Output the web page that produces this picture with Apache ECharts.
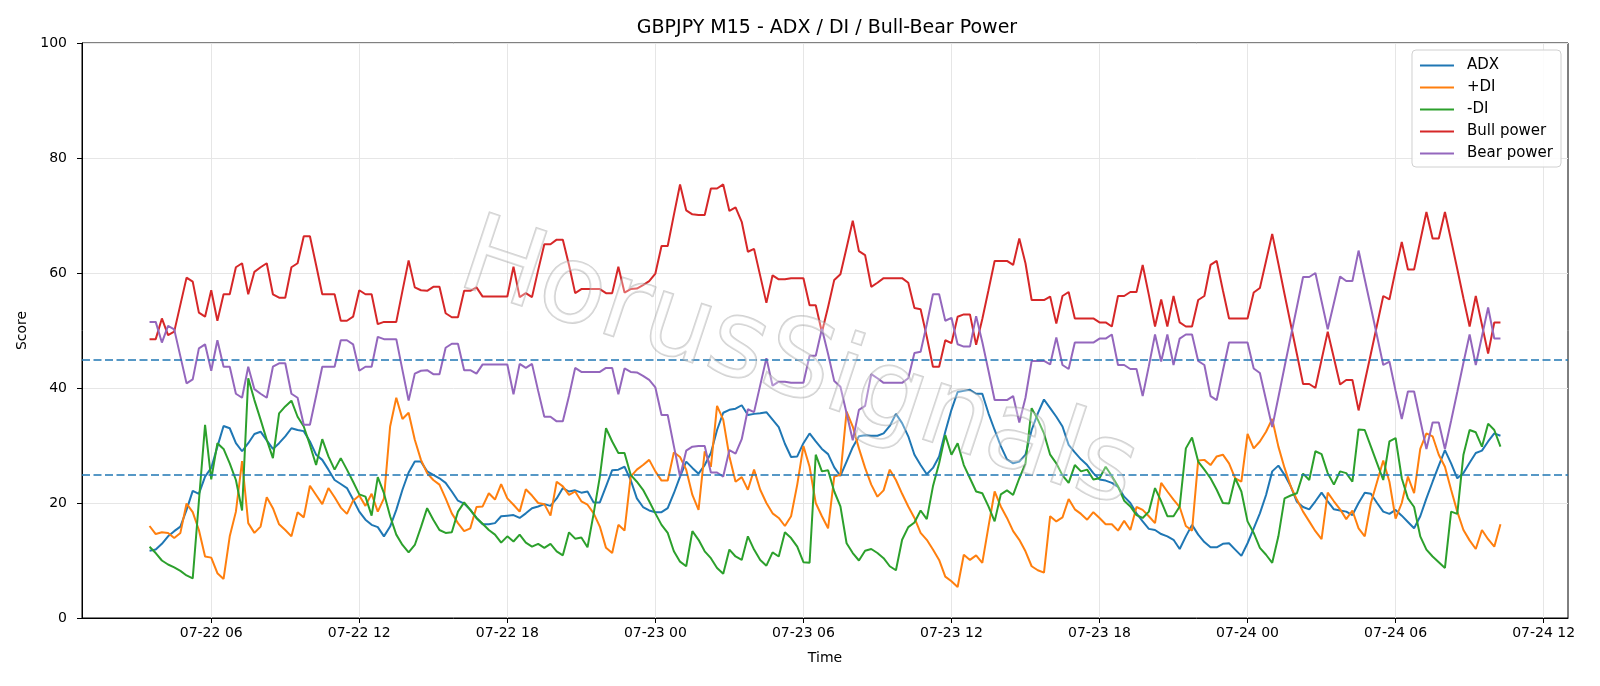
<!DOCTYPE html>
<html>
<head>
<meta charset="utf-8">
<title>GBPJPY M15 - ADX / DI / Bull-Bear Power</title>
<script src="https://cdn.jsdelivr.net/npm/echarts@6/dist/echarts.min.js"></script>
<style>
html, body { margin: 0; padding: 0; background: #fff; }
#chart { width: 1600px; height: 686px; }
</style>
</head>
<body>
<div id="chart"></div>
<script>
// M15 bars, first bar is 07-22 03:30 (hours counted from 07-22 00:00)
var startHour = 3.5;
var stepHour = 0.25;

var adx = [
    11.7, 11.9, 12.9, 14.2, 15.1, 15.9, 18.8, 22.1, 21.6, 24.6,
    26.1, 29.8, 33.4, 33.0, 30.4, 29.0, 30.4, 32.0, 32.4, 30.9,
    29.4, 30.4, 31.6, 33.0, 32.7, 32.5, 30.7, 28.4, 27.5, 25.8,
    24.0, 23.3, 22.6, 20.6, 18.5, 17.1, 16.2, 15.8, 14.2, 15.9,
    18.8, 22.3, 25.3, 27.2, 27.2, 25.5, 24.9, 24.3, 23.5, 22.0,
    20.4, 19.9, 18.8, 17.4, 16.3, 16.3, 16.5, 17.7, 17.8, 17.9,
    17.4, 18.2, 19.1, 19.4, 19.8, 19.5, 20.8, 22.6, 22.0, 22.2,
    21.8, 22.0, 20.1, 20.1, 22.9, 25.7, 25.8, 26.3, 24.0, 20.8,
    19.3, 18.7, 18.4, 18.4, 19.1, 21.7, 24.6, 27.2, 26.1, 25.1,
    26.6, 28.7, 32.7, 35.7, 36.2, 36.4, 37.0, 35.3, 35.5, 35.6,
    35.8, 34.5, 33.2, 30.3, 28.0, 28.1, 30.4, 32.1, 30.7, 29.4,
    28.5, 26.2, 24.7, 27.2, 29.7, 31.6, 31.8, 31.7, 31.7, 32.1,
    33.4, 35.5, 33.9, 31.6, 28.4, 26.6, 25.0, 26.1, 28.1, 32.4,
    36.2, 39.3, 39.5, 39.7, 39.0, 39.0, 35.6, 32.7, 29.9, 27.6,
    26.9, 27.2, 28.4, 32.7, 35.6, 38.0, 36.5, 35.0, 33.3, 30.1,
    28.8, 27.6, 26.6, 25.2, 24.1, 23.9, 23.5, 22.8, 21.1, 20.0,
    18.2, 16.8, 15.5, 15.3, 14.6, 14.2, 13.6, 12.0, 14.2, 16.2,
    14.5, 13.2, 12.3, 12.3, 12.9, 13.0, 11.9, 10.8, 13.0, 15.6,
    18.2, 21.4, 25.5, 26.5, 24.9, 22.9, 20.2, 19.3, 18.9, 20.3,
    21.8, 20.3, 18.9, 18.7, 18.5, 17.9, 20.0, 21.8, 21.6, 20.0,
    18.5, 18.1, 18.8, 17.8, 16.7, 15.6, 17.7, 20.8, 23.7, 26.5,
    29.2, 26.9, 24.3, 25.2, 27.0, 28.7, 29.1, 30.7, 32.1, 31.7
];

var plusDI = [
    16.0, 14.6, 14.9, 14.8, 13.9, 14.8, 19.9, 18.4, 15.3, 10.7,
    10.5, 7.8, 6.8, 14.2, 18.5, 27.3, 16.5, 14.8, 15.9, 21.0,
    19.1, 16.3, 15.3, 14.2, 18.4, 17.5, 23.0, 21.4, 19.8, 22.6,
    21.0, 19.2, 18.1, 20.4, 21.3, 19.5, 21.6, 18.5, 20.8, 33.3,
    38.3, 34.6, 35.7, 31.0, 27.5, 25.2, 24.0, 23.2, 20.8, 18.2,
    16.5, 15.1, 15.6, 19.3, 19.4, 21.7, 20.6, 23.3, 20.8, 19.7,
    18.5, 22.4, 21.3, 20.0, 19.8, 17.8, 23.7, 22.9, 21.4, 22.0,
    20.3, 19.7, 18.2, 15.9, 12.2, 11.3, 16.2, 15.2, 24.6, 25.8,
    26.6, 27.5, 25.5, 23.9, 23.9, 28.8, 28.0, 25.8, 21.4, 18.8,
    29.0, 26.3, 36.9, 34.5, 28.1, 23.7, 24.5, 22.3, 25.8, 22.3,
    20.0, 18.2, 17.4, 16.0, 17.7, 23.2, 29.9, 26.3, 20.0, 17.7,
    15.6, 24.6, 24.9, 35.9, 33.3, 29.5, 26.1, 23.2, 21.1, 22.2,
    25.8, 24.0, 21.6, 19.4, 17.4, 14.8, 13.6, 11.9, 10.1, 7.2,
    6.4, 5.4, 11.0, 10.1, 10.9, 9.6, 15.9, 22.0, 19.4, 17.4,
    15.1, 13.6, 11.6, 9.0, 8.3, 7.9, 17.7, 16.8, 17.5, 20.7,
    18.9, 18.1, 17.1, 18.4, 17.4, 16.3, 16.3, 15.2, 16.9, 15.3,
    19.3, 18.8, 17.7, 16.5, 23.5, 22.0, 20.6, 19.3, 16.0, 15.2,
    27.4, 27.5, 26.6, 28.1, 28.4, 26.9, 24.3, 23.7, 32.0, 29.5,
    30.7, 32.4, 34.6, 29.8, 26.1, 22.9, 20.6, 18.5, 16.8, 15.1,
    13.7, 21.8, 20.3, 18.9, 17.2, 18.7, 15.6, 14.2, 20.0, 23.7,
    27.4, 23.7, 17.3, 20.0, 24.6, 21.7, 29.4, 32.1, 31.6, 28.4,
    26.3, 22.3, 18.5, 15.3, 13.5, 12.0, 15.3, 13.7, 12.4, 16.3
];

var minusDI = [
    12.4, 11.3, 10.0, 9.3, 8.8, 8.2, 7.4, 6.9, 20.3, 33.6,
    24.1, 30.4, 29.4, 26.9, 24.0, 18.7, 41.7, 37.9, 34.5, 31.0,
    27.8, 35.6, 36.8, 37.8, 35.0, 33.3, 30.1, 26.6, 31.1, 28.1,
    25.8, 27.8, 25.8, 23.7, 21.5, 21.1, 17.8, 24.5, 21.7, 17.7,
    14.5, 12.7, 11.4, 12.7, 15.8, 19.1, 17.1, 15.3, 14.8, 14.9,
    18.5, 20.1, 18.8, 17.4, 16.4, 15.3, 14.5, 13.1, 14.2, 13.3,
    14.5, 13.1, 12.4, 12.9, 12.2, 12.9, 11.6, 10.9, 14.9, 13.8,
    14.0, 12.3, 18.2, 24.6, 33.0, 30.7, 28.7, 28.7, 24.9, 23.7,
    22.3, 20.3, 18.2, 16.2, 14.8, 11.6, 9.8, 9.0, 15.1, 13.6,
    11.6, 10.4, 8.7, 7.7, 11.9, 10.7, 10.1, 14.2, 11.9, 10.1,
    9.1, 11.4, 10.7, 14.9, 13.9, 12.4, 9.7, 9.6, 28.4, 25.5,
    25.7, 22.0, 19.4, 13.0, 11.3, 10.0, 11.7, 12.0, 11.3, 10.4,
    9.0, 8.3, 13.6, 15.8, 16.6, 18.7, 17.2, 22.9, 26.9, 31.8,
    28.4, 30.4, 26.6, 24.3, 22.0, 21.7, 19.4, 16.8, 21.5, 22.2,
    21.4, 24.3, 26.9, 36.5, 34.5, 32.1, 28.4, 26.9, 24.8, 23.5,
    26.6, 25.5, 25.8, 24.1, 24.3, 26.3, 24.7, 22.9, 20.4, 19.4,
    17.9, 17.4, 18.5, 22.6, 20.3, 17.7, 17.7, 19.4, 29.5, 31.4,
    27.2, 25.8, 24.3, 22.3, 20.0, 19.9, 24.3, 22.0, 16.8, 14.8,
    12.2, 11.0, 9.6, 14.2, 20.8, 21.3, 21.7, 25.1, 24.0, 29.0,
    28.5, 25.2, 23.2, 25.5, 25.2, 23.7, 32.8, 32.7, 29.8, 26.9,
    24.0, 30.7, 31.3, 24.3, 20.8, 19.3, 14.2, 11.9, 10.7, 9.7,
    8.7, 18.5, 18.1, 28.4, 32.7, 32.3, 29.8, 33.8, 32.7, 29.8
];

var bullPower = [
    48.5, 48.5, 52.1, 49.2, 49.8, 54.5, 59.2, 58.5, 53.1, 52.4,
    57.0, 51.7, 56.3, 56.3, 61.0, 61.7, 56.3, 60.2, 61.0, 61.7,
    56.3, 55.7, 55.7, 61.0, 61.7, 66.4, 66.4, 61.4, 56.3, 56.3,
    56.3, 51.7, 51.7, 52.4, 57.0, 56.3, 56.3, 51.1, 51.5, 51.5,
    51.5, 56.9, 62.2, 57.5, 57.0, 56.9, 57.6, 57.6, 53.0, 52.3,
    52.3, 56.9, 56.9, 57.5, 55.9, 55.9, 55.9, 55.9, 55.9, 61.1,
    55.8, 56.5, 55.8, 60.5, 65.0, 65.0, 65.8, 65.8, 61.4, 56.5,
    57.2, 57.2, 57.2, 57.2, 56.5, 56.5, 61.1, 56.6, 57.2, 57.3,
    57.9, 58.6, 59.9, 64.7, 64.7, 70.1, 75.4, 70.9, 70.2, 70.1,
    70.1, 74.7, 74.7, 75.4, 70.8, 71.4, 68.9, 63.7, 64.2, 59.5,
    54.8, 59.6, 58.9, 58.9, 59.1, 59.1, 59.1, 54.4, 54.4, 49.7,
    54.1, 58.8, 59.8, 64.4, 69.1, 63.8, 63.1, 57.6, 58.3, 59.1,
    59.1, 59.1, 59.1, 58.3, 53.9, 53.7, 48.9, 43.7, 43.7, 48.3,
    47.8, 52.4, 52.8, 52.8, 47.5, 52.0, 57.0, 62.1, 62.1, 62.1,
    61.4, 66.0, 61.7, 55.3, 55.3, 55.3, 55.9, 51.2, 56.0, 56.7,
    52.1, 52.1, 52.1, 52.1, 51.4, 51.4, 50.7, 56.0, 56.0, 56.7,
    56.7, 61.4, 56.2, 50.7, 55.4, 50.7, 56.0, 51.4, 50.7, 50.7,
    55.3, 56.0, 61.4, 62.1, 57.0, 52.1, 52.1, 52.1, 52.1, 56.6,
    57.4, 62.1, 66.8, 61.6, 56.3, 51.1, 45.9, 40.7, 40.7, 40.0,
    44.9, 49.8, 45.2, 40.6, 41.4, 41.4, 36.1, 41.1, 46.0, 51.0,
    56.0, 55.4, 60.5, 65.4, 60.6, 60.6, 65.6, 70.6, 66.0, 66.0,
    70.6, 65.7, 60.7, 55.6, 50.7, 56.0, 51.0, 46.0, 51.4, 51.4
];

var bearPower = [
    51.5, 51.5, 47.9, 50.8, 50.2, 45.5, 40.8, 41.5, 46.9, 47.6,
    43.0, 48.3, 43.7, 43.7, 39.0, 38.3, 43.7, 39.8, 39.0, 38.3,
    43.7, 44.3, 44.3, 39.0, 38.3, 33.6, 33.6, 38.6, 43.7, 43.7,
    43.7, 48.3, 48.3, 47.6, 43.0, 43.7, 43.7, 48.9, 48.5, 48.5,
    48.5, 43.1, 37.8, 42.5, 43.0, 43.1, 42.4, 42.4, 47.0, 47.7,
    47.7, 43.1, 43.1, 42.5, 44.1, 44.1, 44.1, 44.1, 44.1, 38.9,
    44.2, 43.5, 44.2, 39.5, 35.0, 35.0, 34.2, 34.2, 38.6, 43.5,
    42.8, 42.8, 42.8, 42.8, 43.5, 43.5, 38.9, 43.4, 42.8, 42.7,
    42.1, 41.4, 40.1, 35.3, 35.3, 29.9, 24.6, 29.1, 29.8, 29.9,
    29.9, 25.3, 25.3, 24.6, 29.2, 28.6, 31.1, 36.3, 35.8, 40.5,
    45.2, 40.4, 41.1, 41.1, 40.9, 40.9, 40.9, 45.6, 45.6, 50.3,
    45.9, 41.2, 40.2, 35.6, 30.9, 36.2, 36.9, 42.4, 41.7, 40.9,
    40.9, 40.9, 40.9, 41.7, 46.1, 46.3, 51.1, 56.3, 56.3, 51.7,
    52.2, 47.6, 47.2, 47.2, 52.5, 48.0, 43.0, 37.9, 37.9, 37.9,
    38.6, 34.0, 38.3, 44.7, 44.7, 44.7, 44.1, 48.8, 44.0, 43.3,
    47.9, 47.9, 47.9, 47.9, 48.6, 48.6, 49.3, 44.0, 44.0, 43.3,
    43.3, 38.6, 43.8, 49.3, 44.6, 49.3, 44.0, 48.6, 49.3, 49.3,
    44.7, 44.0, 38.6, 37.9, 43.0, 47.9, 47.9, 47.9, 47.9, 43.4,
    42.6, 37.9, 33.2, 38.4, 43.7, 48.9, 54.1, 59.3, 59.3, 60.0,
    55.1, 50.2, 54.8, 59.4, 58.6, 58.6, 63.9, 58.9, 54.0, 49.0,
    44.0, 44.6, 39.5, 34.6, 39.4, 39.4, 34.4, 29.4, 34.0, 34.0,
    29.4, 34.3, 39.3, 44.4, 49.3, 44.0, 49.0, 54.0, 48.6, 48.6
];

var tickHours = [6, 12, 18, 24, 30, 36, 42, 48, 54, 60];
var tickLabels = ['07-22 06', '07-22 12', '07-22 18', '07-23 00', '07-23 06',
    '07-23 12', '07-23 18', '07-24 00', '07-24 06', '07-24 12'];
var levels = [25, 45];

function toPoints(values) {
    return values.map(function (v, i) {
        return [startHour + i * stepHour, v];
    });
}

function lineSeries(name, values, color) {
    return {
        name: name,
        type: 'line',
        data: toPoints(values),
        showSymbol: false,
        symbol: 'none',
        lineStyle: { width: 2, color: color },
        itemStyle: { color: color }
    };
}

var chart = echarts.init(document.getElementById('chart'));

var series = [
    lineSeries('ADX', adx, '#1f77b4'),
    lineSeries('+DI', plusDI, '#ff7f0e'),
    lineSeries('-DI', minusDI, '#2ca02c'),
    lineSeries('Bull power', bullPower, '#d62728'),
    lineSeries('Bear power', bearPower, '#9467bd')
];
series[0].markLine = {
    silent: true,
    symbol: 'none',
    label: { show: false },
    lineStyle: { color: '#1f77b4', type: [8, 3.5], width: 1.5 },
    data: levels.map(function (l) { return { yAxis: l }; })
};

var option = {
    animation: false,
    textStyle: { fontFamily: 'DejaVu Sans', color: '#000' },
    title: {
        text: 'GBPJPY M15 - ADX / DI / Bull-Bear Power',
        left: 822,
        top: 14,
        textAlign: 'center',
        textStyle: { fontSize: 19, fontWeight: 'normal', color: '#000', fontFamily: 'DejaVu Sans' }
    },
    legend: {
        orient: 'vertical',
        right: 39,
        top: 50,
        icon: 'rect',
        itemWidth: 34,
        itemHeight: 2,
        itemGap: 7,
        padding: [8, 8, 6, 8],
        backgroundColor: 'rgba(255,255,255,0.85)',
        borderColor: '#d0d0d0',
        borderWidth: 1,
        borderRadius: 4,
        textStyle: { fontSize: 15, color: '#000', fontFamily: 'DejaVu Sans', padding: [0, 0, 0, 8] },
        data: ['ADX', '+DI', '-DI', 'Bull power', 'Bear power']
    },
    grid: {
        left: 82,
        right: 32,
        top: 43,
        bottom: 68,
        show: true,
        borderColor: '#000',
        borderWidth: 1,
        containLabel: false
    },
    xAxis: {
        type: 'value',
        min: 0.7625,
        max: 60.9875,
        name: 'Time',
        nameLocation: 'middle',
        nameGap: 33,
        nameTextStyle: { fontSize: 14, color: '#000' },
        axisLine: { show: true, lineStyle: { color: '#000', width: 1 } },
        axisTick: { show: true, length: 5, inside: false, customValues: tickHours, lineStyle: { color: '#000' } },
        axisLabel: {
            customValues: tickHours,
            fontSize: 14,
            color: '#000',
            margin: 8,
            formatter: function (v) {
                var k = tickHours.indexOf(Math.round(v));
                return k >= 0 ? tickLabels[k] : '';
            }
        },
        splitLine: { show: true, lineStyle: { color: '#e6e6e6', width: 1 } }
    },
    yAxis: {
        type: 'value',
        min: 0,
        max: 100,
        interval: 20,
        name: 'Score',
        nameLocation: 'middle',
        nameGap: 52,
        nameTextStyle: { fontSize: 14, color: '#000' },
        axisLine: { show: true, lineStyle: { color: '#000', width: 1 } },
        axisTick: { show: true, length: 5, inside: false, lineStyle: { color: '#000' } },
        axisLabel: { fontSize: 14, color: '#000', margin: 15 },
        splitLine: { show: true, lineStyle: { color: '#e6e6e6', width: 1 } }
    },
    graphic: [{
        type: 'text',
        x: 798,
        y: 368,
        rotation: -0.32,
        silent: true,
        z: 100,
        style: {
            text: 'HorusSignals',
            font: 'normal 108px "DejaVu Sans"',
            fill: 'rgba(255,255,255,0.3)',
            stroke: 'rgba(150,150,150,0.45)',
            lineWidth: 1.8,
            align: 'center',
            verticalAlign: 'middle'
        }
    }],
    series: series
};

chart.setOption(option);
</script>
</body>
</html>
